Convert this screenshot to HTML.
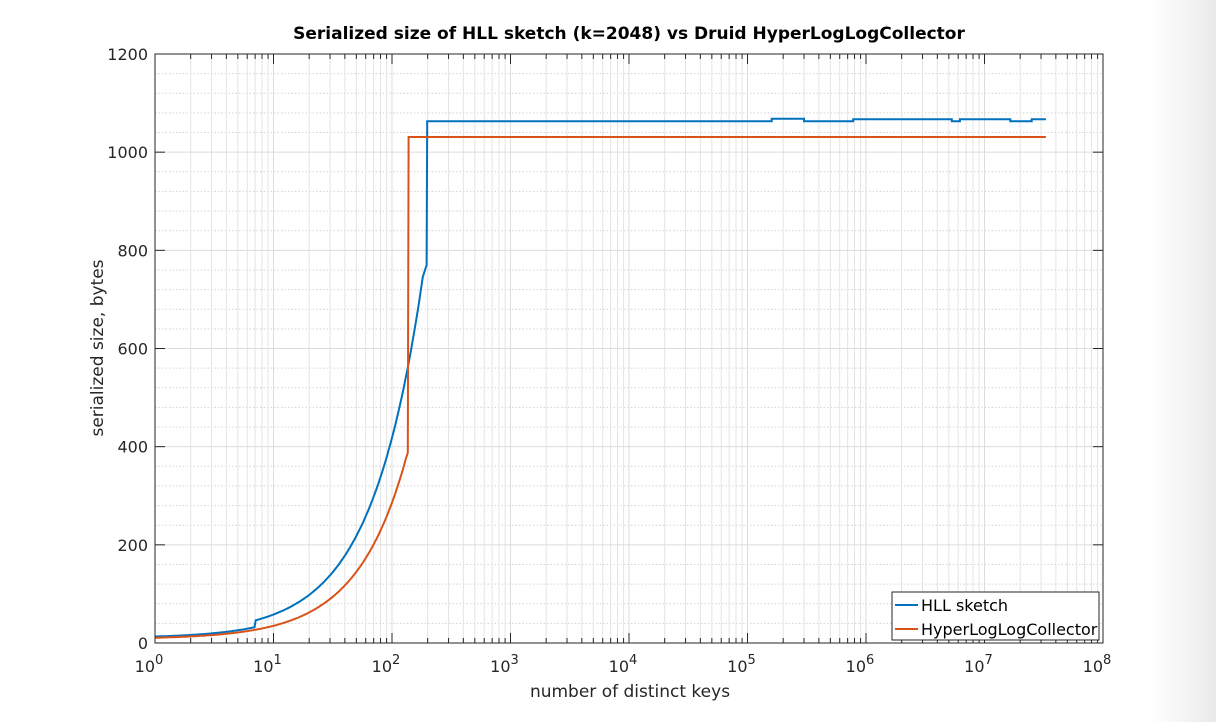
<!DOCTYPE html>
<html><head><meta charset="utf-8"><style>
body{margin:0;width:1216px;height:722px;overflow:hidden;background:#fff;font-family:"Liberation Sans","DejaVu Sans",sans-serif;}
#shade{position:absolute;left:1150px;top:0;width:66px;height:722px;background:linear-gradient(to right,#fff,#f3f3f3 60%,#e9e9e9);}
</style></head><body>
<div id="shade"></div>
<svg id="s" width="1216" height="722" style="position:absolute;left:0;top:0" font-family="DejaVu Sans, Liberation Sans, sans-serif">
<text x="629" y="39" text-anchor="middle" font-weight="bold" font-size="17" fill="#000">Serialized size of HLL sketch (k=2048) vs Druid HyperLogLogCollector</text>
<g id="grid"></g>
<g id="lines" fill="none" stroke-width="2"></g>
<rect x="155" y="54" width="948" height="589" fill="none" stroke="#262626" stroke-width="1"/>
<g id="ticks" font-size="16" fill="#262626"></g>
<text x="630" y="697" text-anchor="middle" font-size="17" fill="#262626">number of distinct keys</text>
<text transform="translate(103,348) rotate(-90)" text-anchor="middle" font-size="17" fill="#262626">serialized size, bytes</text>
<rect x="892" y="592" width="207" height="48" fill="#fff" stroke="#262626" stroke-width="1"/>
<line x1="895" y1="605" x2="918" y2="605" stroke="#0072BD" stroke-width="2"/>
<text x="921" y="611" font-size="16" fill="#000">HLL sketch</text>
<line x1="895" y1="629" x2="918" y2="629" stroke="#D95319" stroke-width="2"/>
<text x="921" y="635" font-size="16" fill="#000">HyperLogLogCollector</text>
</svg>
<script>
const NS="http://www.w3.org/2000/svg";
const L=155,R=1103,T=54,B=643,D=(R-L)/8;
const X=n=>L+Math.log10(n)*D, Y=v=>B-v*(B-T)/1200;
function el(p,t,a,txt){const e=document.createElementNS(NS,t);for(const k in a)e.setAttribute(k,a[k]);if(txt!=null)e.textContent=txt;p.appendChild(e);return e;}
const g=document.getElementById('grid'),tk=document.getElementById('ticks'),ln=document.getElementById('lines');
for(let v=40;v<1200;v+=40){if(v%200)el(g,'line',{x1:L,x2:R,y1:Y(v),y2:Y(v),stroke:'#d4d4d4','stroke-dasharray':'1.5,2'});}
for(let d=0;d<8;d++)for(let m=2;m<10;m++){const x=X(m*Math.pow(10,d));el(g,'line',{x1:x,x2:x,y1:T,y2:B,stroke:'#e4e4e4'});
 el(tk,'line',{x1:x,x2:x,y1:B,y2:B-5,stroke:'#262626'});el(tk,'line',{x1:x,x2:x,y1:T,y2:T+5,stroke:'#262626'});}
for(let v=200;v<1200;v+=200)el(g,'line',{x1:L,x2:R,y1:Y(v),y2:Y(v),stroke:'#dcdcdc'});
for(let d=1;d<8;d++){const x=L+d*D;el(g,'line',{x1:x,x2:x,y1:T,y2:B,stroke:'#dcdcdc'});}
for(let d=0;d<=8;d++){const x=L+d*D;el(tk,'line',{x1:x,x2:x,y1:B,y2:B-10,stroke:'#262626'});el(tk,'line',{x1:x,x2:x,y1:T,y2:T+10,stroke:'#262626'});
 const t=el(tk,'text',{x:x-6,y:672,'text-anchor':'middle'},'10');el(t,'tspan',{dy:-8,'font-size':13},String(d));}
for(let v=0;v<=1200;v+=200){const y=Y(v);el(tk,'line',{x1:L,x2:L+10,y1:y,y2:y,stroke:'#262626'});el(tk,'line',{x1:R,x2:R-10,y1:y,y2:y,stroke:'#262626'});
 el(tk,'text',{x:L-7,y:y+6,'text-anchor':'end'},String(v));}
// HLL
let p=[];for(let i=0;i<=230;i++){const n=Math.pow(10,i/100);if(n>186)break;p.push([n,n<7?10+3.2*n:4.0*n+18]);}
p.push([196,770]);p.push([198,1063]);
const steps=[[1.6e5,1068],[3e5,1063],[7.8e5,1067],[5.3e6,1063],[6.2e6,1067],[1.65e7,1063],[2.5e7,1067],[3.3e7,1067]];
let cur=1063;for(const [n,v] of steps){p.push([n,cur]);p.push([n,v]);cur=v;}
el(ln,'path',{stroke:'#0072BD',d:'M'+p.map(a=>X(a[0]).toFixed(1)+','+Y(a[1]).toFixed(1)).join('L')});
// Druid
p=[];for(let i=0;i<=230;i++){const n=Math.pow(10,i/100);if(n>134)break;p.push([n,8+2.7*n+0.0008*n*n]);}
p.push([136,387]);p.push([138,1031]);p.push([3.3e7,1031]);
el(ln,'path',{stroke:'#D95319',d:'M'+p.map(a=>X(a[0]).toFixed(1)+','+Y(a[1]).toFixed(1)).join('L')});
</script>
</body></html>
